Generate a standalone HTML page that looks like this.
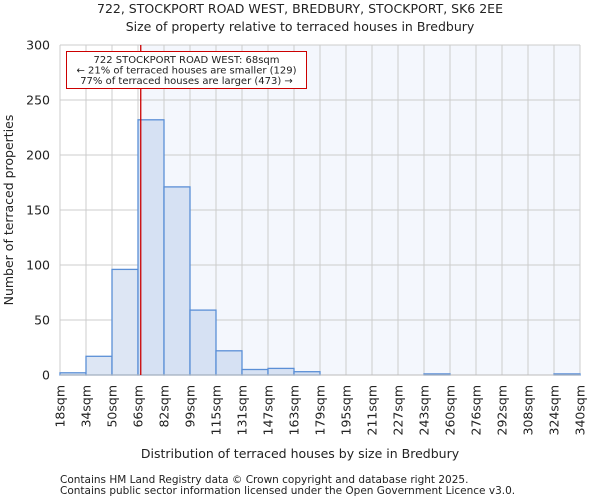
<!DOCTYPE html>
<html><head><meta charset="utf-8"><style>
body{margin:0;background:#fff;font-family:"DejaVu Sans","Liberation Sans",sans-serif;}
svg text{font-family:"DejaVu Sans","Liberation Sans",sans-serif;fill:#222;}
</style></head><body>
<svg id="c" width="600" height="500" xmlns="http://www.w3.org/2000/svg">
<text x="300" y="13" font-size="12.5" text-anchor="middle">722, STOCKPORT ROAD WEST, BREDBURY, STOCKPORT, SK6 2EE</text>
<text x="300" y="31" font-size="12.5" text-anchor="middle">Size of property relative to terraced houses in Bredbury</text>
<g id="plot"></g>
<text x="300" y="458" font-size="12.5" text-anchor="middle">Distribution of terraced houses by size in Bredbury</text>
<text x="13" y="210" font-size="12.5" text-anchor="middle" transform="rotate(-90 13 210)">Number of terraced properties</text>
<text x="60" y="483" font-size="10.5">Contains HM Land Registry data © Crown copyright and database right 2025.</text>
<text x="60" y="494" font-size="10.5">Contains public sector information licensed under the Open Government Licence v3.0.</text>
</svg>
<script>
const tickLabels=["18sqm","34sqm","50sqm","66sqm","82sqm","99sqm","115sqm","131sqm","147sqm","163sqm","179sqm","195sqm","211sqm","227sqm","243sqm","260sqm","276sqm","292sqm","308sqm","324sqm","340sqm"];
const counts=[2,17,96,232,171,59,22,5,6,3,0,0,0,0,1,0,0,0,0,1];
const yTicks=[0,50,100,150,200,250,300];
const subjectSize=68;
const binStart=18, binEnd=340;
const NS="http://www.w3.org/2000/svg";
const X0=60,X1=580,Y0=375,Y1=45;
const xs=v=>X0+(v-binStart)/(binEnd-binStart)*(X1-X0);
const xi=i=>X0+i*(X1-X0)/counts.length;
const ys=v=>Y0-v/300*(Y0-Y1);
const g=document.getElementById('plot');
function mk(t,a){const e=document.createElementNS(NS,t);for(const k in a)e.setAttribute(k,a[k]);g.appendChild(e);return e;}
const sx=xs(subjectSize);
let e=mk('rect',{x:X0,y:Y1,width:X1-X0,height:Y0-Y1,fill:'#f4f7fd'});


e=mk('rect',{x:X0,y:Y1,width:sx-X0,height:Y0-Y1,fill:'#ffffff'});


yTicks.forEach(v=>{
 let l=mk('line',{x1:X0,x2:X1,y1:ys(v),y2:ys(v),stroke:'#cccccc','stroke-width':1});
 
 
 let t=mk('text',{x:X0-10,y:ys(v)+4.5,'font-size':12.5,'text-anchor':'end'});t.textContent=v;
 
 
});
tickLabels.forEach((s,i)=>{
 const x=xi(i);
 let l=mk('line',{x1:x,x2:x,y1:Y1,y2:Y0,stroke:'#cccccc','stroke-width':1});
 
 
 let t=mk('text',{x:0,y:0,'font-size':12.5,'text-anchor':'end',transform:`translate(${x+4.5},${Y0+10}) rotate(-90)`});t.textContent=s;
 
 
});
counts.forEach((c,i)=>{
 if(c<=0)return;
 let r=mk('rect',{x:xi(i),y:ys(c),width:xi(i+1)-xi(i),height:Y0-ys(c),fill:i>=3?'#d6e1f3':'#dde6f4',stroke:'#5b8fd6','stroke-width':1.3});
 
 
});
e=mk('line',{x1:X0,x2:X1,y1:Y0,y2:Y0,stroke:'#bbbbbb','stroke-width':1});


e=mk('line',{x1:sx,x2:sx,y1:Y1,y2:Y0,stroke:'#cc0000','stroke-width':1.3});


e=mk('rect',{x:66.5,y:51.5,width:240,height:37,fill:'#fff',stroke:'#cc0000','stroke-width':1});


["722 STOCKPORT ROAD WEST: 68sqm","← 21% of terraced houses are smaller (129)","77% of terraced houses are larger (473) →"].forEach((s,i)=>{
 let t=mk('text',{x:186.5,y:63+i*10.5,'font-size':10,'text-anchor':'middle'});t.textContent=s;
 
 
});
</script>
</body></html>
